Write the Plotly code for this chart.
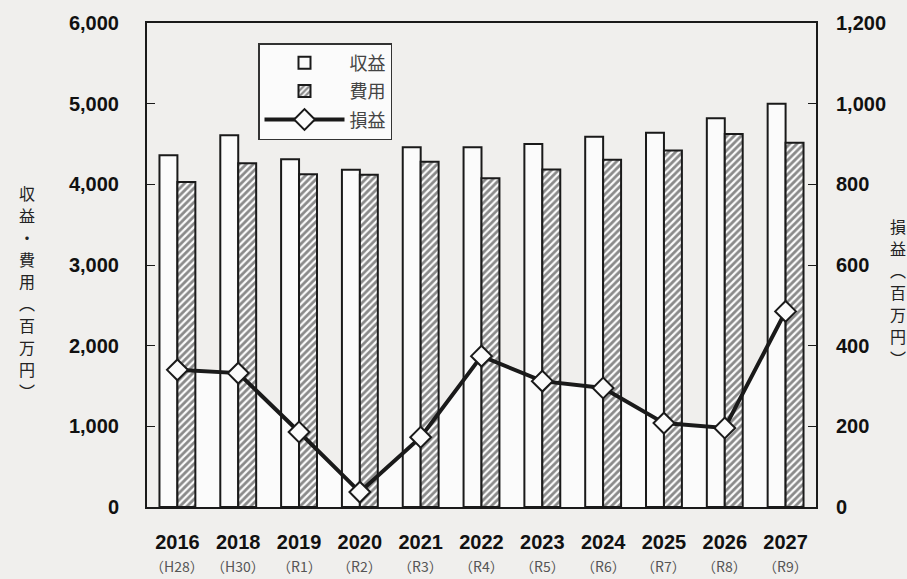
import plotly.graph_objects as go

# 年度ラベル（西暦・和暦）
years = ["2016", "2018", "2019", "2020", "2021", "2022", "2023", "2024", "2025", "2026", "2027"]
eras = ["H28", "H30", "R1", "R2", "R3", "R4", "R5", "R6", "R7", "R8", "R9"]

# 収益・費用（百万円）
revenue = [4360, 4610, 4310, 4180, 4460, 4460, 4500, 4590, 4640, 4820, 5000]
expense = [4030, 4260, 4125, 4120, 4280, 4075, 4185, 4305, 4420, 4625, 4515]
# 損益（百万円）
profit = [340, 332, 186, 37, 173, 374, 312, 295, 208, 196, 485]

left_ticks = [0, 1000, 2000, 3000, 4000, 5000, 6000]
right_ticks = [0, 200, 400, 600, 800, 1000, 1200]

BG = "#f0efed"
WHITE = "#fbfbfb"
INK = "#1a1a1a"
idx = list(range(len(years)))

W, H = 907, 579
L, R, T, B = 147, 91, 23, 72
pw, ph = W - L - R, H - T - B


def px_to_paper(px, py):
    return (px - L) / pw, (H - B - py) / ph


fig = go.Figure()

fig.add_trace(go.Bar(
    x=idx, y=revenue, name="収益", legendgroup="a",
    marker=dict(color=WHITE, line=dict(color=INK, width=2)),
))
fig.add_trace(go.Bar(
    x=idx, y=expense, name="費用", legendgroup="b",
    marker=dict(color=WHITE, line=dict(color=INK, width=2),
                pattern=dict(shape="/", fgcolor=INK, bgcolor=WHITE, size=5, solidity=0.55)),
))
fig.add_trace(go.Scatter(
    x=idx, y=profit, name="損益", legendgroup="c", yaxis="y2", mode="lines+markers",
    line=dict(color=INK, width=4),
    marker=dict(symbol="diamond", size=16, color=WHITE, line=dict(color=INK, width=2)),
))

# 損益線より下の白い塗り
pts = " ".join(f"L{x},{v}" for x, v in zip(idx, profit))
path = f"M{idx[0]},0 {pts} L{idx[-1]},0 Z"
fig.add_shape(type="path", path=path, xref="x", yref="y2", layer="below",
              fillcolor=WHITE, line=dict(width=0))

# 和暦ラベル
for i, e in zip(idx, eras):
    fig.add_annotation(x=i, y=px_to_paper(0, 566)[1], xref="x", yref="paper", text=f"（{e}）",
                       showarrow=False, yanchor="middle",
                       font=dict(family="Noto Sans CJK JP", size=14, color="#555555"))

# 縦書きの軸タイトル（1文字ずつ配置）
def vertical_title(text, cx, cy, step=22):
    n = len(text)
    top = cy - step * (n - 1) / 2
    for k, ch in enumerate(text):
        ax, ay = px_to_paper(cx, top + k * step)
        fig.add_annotation(x=ax, y=ay, xref="paper", yref="paper", text=ch,
                           showarrow=False, xanchor="center", yanchor="middle",
                           font=dict(family="Noto Sans CJK JP", size=16, color="#222222"))


vertical_title("収益・費用︵百万円︶", 27, 292)
vertical_title("損益︵百万円︶", 898, 292)

tick_font = dict(family="Liberation Sans", size=20, color="#111111")
lx, ly = px_to_paper(258, 43)

fig.update_layout(
    width=W, height=H,
    margin=dict(l=L, r=R, t=T, b=B, pad=0),
    paper_bgcolor=BG, plot_bgcolor=BG,
    barmode="group", bargap=0.41, bargroupgap=0,
    showlegend=True,
    legend=dict(x=lx, y=ly, xanchor="left", yanchor="top",
                bgcolor=WHITE, bordercolor="#333333", borderwidth=1.5,
                font=dict(family="Noto Sans CJK JP", size=18, color="#444444"),
                tracegroupgap=2, itemwidth=80),
    xaxis=dict(
        tickmode="array", tickvals=idx, ticktext=[f"<b>{y}</b>" for y in years],
        range=[-0.5, len(years) - 0.5],
        tickfont=tick_font, ticks="inside", ticklen=6, tickcolor=INK,
        tickson="boundaries",
        showline=True, linecolor=INK, linewidth=2, mirror=True,
        showgrid=False, zeroline=False, ticklabelstandoff=16,
    ),
    yaxis=dict(
        range=[0, 6000], tickmode="array", tickvals=left_ticks,
        ticktext=[f"<b>{v:,}</b>" for v in left_ticks],
        tickfont=tick_font, ticks="inside", ticklen=8, tickcolor=INK,
        showline=True, linecolor=INK, linewidth=2,
        showgrid=False, zeroline=False, ticklabelstandoff=22,
    ),
    yaxis2=dict(
        range=[0, 1200], overlaying="y", side="right",
        tickmode="array", tickvals=right_ticks,
        ticktext=[f"<b>{v:,}</b>" for v in right_ticks],
        tickfont=tick_font, ticks="inside", ticklen=8, tickcolor=INK,
        showline=True, linecolor=INK, linewidth=2,
        showgrid=False, zeroline=False, ticklabelstandoff=14,
    ),
)

fig.write_html("out.html")
